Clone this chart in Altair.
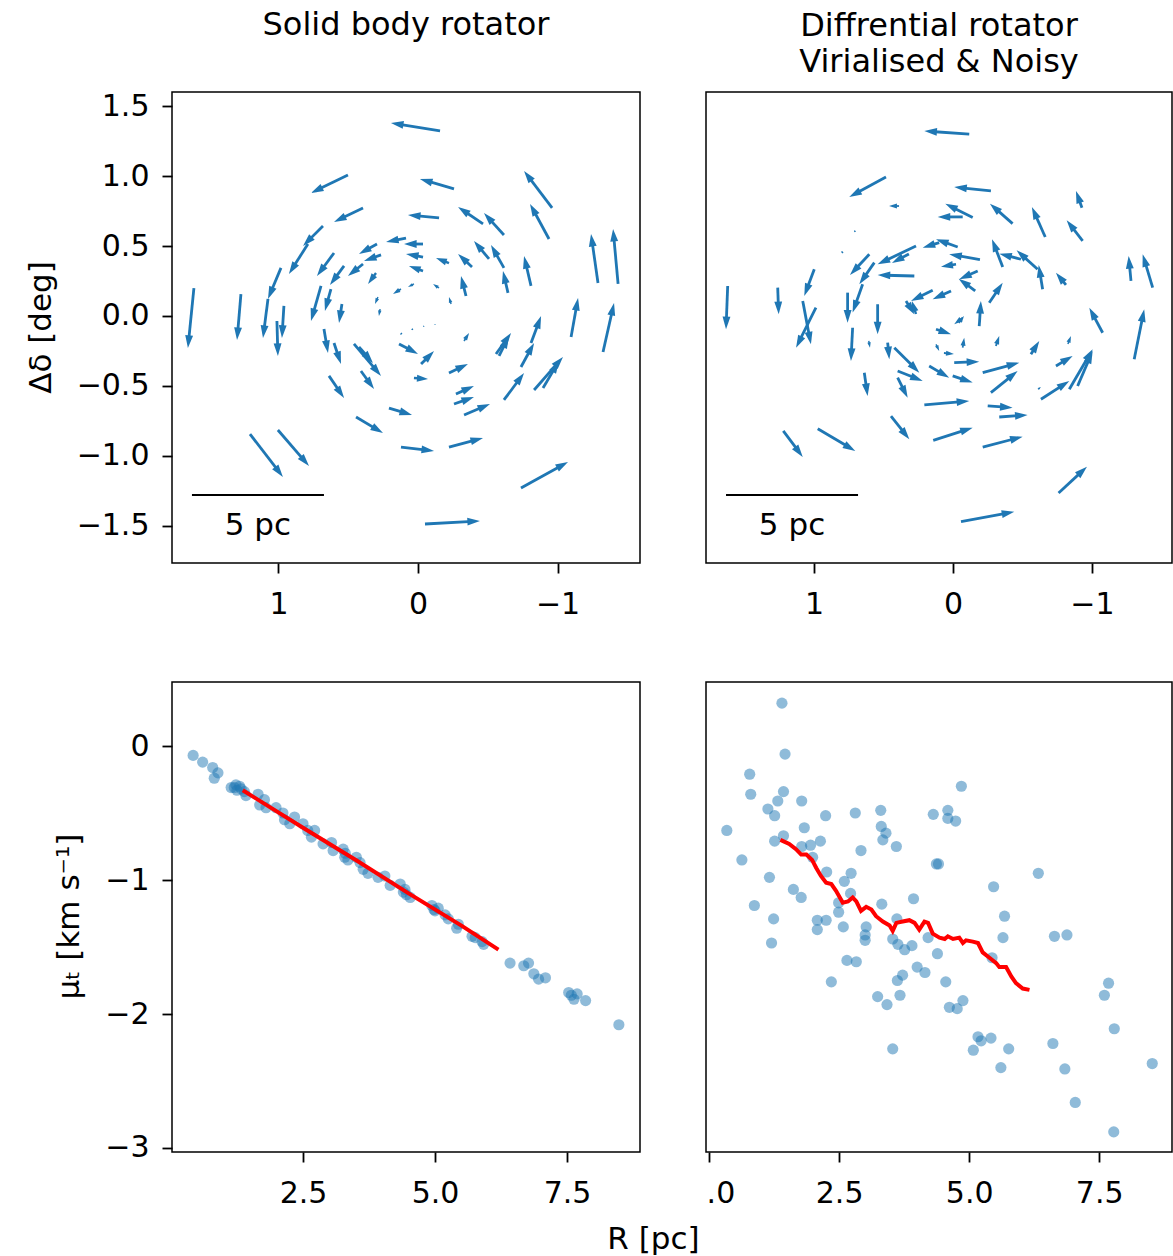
import altair as alt
import pandas as pd

FONT = "DejaVu Sans"
BLUE = "#1f77b4"

sb_x = [-0.158, 0.502, -0.258, -0.961, 0.394, -0.151, -0.466, -0.616, -0.939, 0.681,
        0.789, 0.602, 0.530, 0.086, -0.036, -0.036, 0.294, 0.265, 0.301, 0.394,
        -0.036, -0.222, -0.387, -0.509, -0.616, -0.810, -1.290, -1.434, -0.645, -0.344,
        0.982, 1.606, 1.269, 1.075, 0.961, 1.011, 0.695, 0.624, 0.674, 0.602,
        0.545, 0.459, 0.423, 0.409, 0.638, 0.208, 0.444, 0.122, -0.222, -0.738,
        -0.050, 1.204, 1.004, -0.258, -0.272, -0.330, -0.616, -0.832, -0.896, -0.738,
        -0.810, -1.097, -1.326, -0.559, -0.581, -0.222, 0.136, -0.022, 0.029, 0.115,
        0.036, -0.043, -0.122, 0.122, 0.029, 0.287, 0.272, -0.330, -0.237, -0.151]
sb_y = [1.324, 1.009, 0.909, 0.773, 0.773, 0.702, 0.659, 0.580, 0.551, 0.644,
        0.515, 0.451, 0.358, 0.558, 0.515, 0.422, 0.515, 0.437, 0.308, 0.372,
        0.322, 0.379, 0.351, 0.408, 0.344, 0.215, 0.236, 0.229, 0.165, 0.143,
        0.344, 0.200, 0.157, 0.122, 0.072, -0.036, 0.215, 0.193, -0.093, -0.193,
        0.086, -0.200, -0.222, -0.394, -0.429, -0.659, -0.723, -0.938, -0.938, -1.231,
        -1.489, -0.845, -0.816, -0.630, -0.558, -0.709, -0.601, -0.530, -0.515, -0.365,
        -0.193, -0.150, -0.258, -0.272, -0.286, -0.408, -0.200, -0.344, -0.444, -0.122,
        -0.093, -0.072, -0.064, 0.193, 0.229, 0.136, 0.050, -0.179, 0.086, 0.200]
sb_x2 = [0.194, 0.767, -0.014, -0.760, 0.602, 0.072, -0.287, -0.473, -0.803, 0.824,
         0.925, 0.724, 0.631, 0.229, 0.100, 0.086, 0.423, 0.387, 0.358, 0.502,
         0.065, -0.129, -0.287, -0.401, -0.523, -0.760, -1.240, -1.398, -0.609, -0.308,
         1.075, 1.649, 1.297, 1.111, 0.975, 1.004, 0.767, 0.667, 0.645, 0.552,
         0.566, 0.265, 0.323, 0.315, 0.530, 0.043, 0.251, -0.115, -0.466, -1.075,
         -0.444, 0.968, 0.781, -0.401, -0.401, -0.516, -0.760, -1.039, -1.011, -0.832,
         -0.882, -1.147, -1.405, -0.667, -0.652, -0.358, 0.000, -0.115, -0.072, 0.129,
         0.050, -0.036, -0.122, 0.179, 0.072, 0.308, 0.280, -0.366, -0.222, -0.108]
sb_y2 = [1.382, 0.880, 0.981, 1.038, 0.673, 0.723, 0.780, 0.737, 0.802, 0.501,
         0.301, 0.286, 0.222, 0.530, 0.515, 0.444, 0.444, 0.394, 0.229, 0.286,
         0.358, 0.415, 0.444, 0.537, 0.508, 0.429, 0.587, 0.623, 0.322, 0.286,
         0.122, -0.229, -0.172, -0.157, -0.157, -0.286, -0.036, 0.036, -0.265, -0.344,
         -0.050, -0.429, -0.336, -0.523, -0.587, -0.709, -0.838, -0.966, -0.873, -1.045,
         -1.467, -1.152, -1.074, -0.580, -0.501, -0.630, -0.408, -0.293, -0.322, -0.193,
         0.000, 0.129, 0.093, -0.122, -0.143, -0.344, -0.272, -0.251, -0.451, -0.136,
         -0.100, -0.079, -0.057, 0.158, 0.208, 0.086, 0.000, -0.122, 0.136, 0.229]

dr_x = [-0.117, 0.482, -0.273, 0.388, -0.142, -0.070, -0.429, -0.664, -0.928, -0.933,
        0.703, 0.791, -0.034, 0.099, 0.602, 0.266, 0.317, 0.278, -0.194, -0.022,
        -0.358, -0.489, -0.609, -0.645, -0.813, -1.281, -1.437, -0.178, -0.160, -0.261,
        -0.189, 0.014, 0.146, 0.266, 0.998, 1.261, 1.621, 1.081, 0.986, 0.758,
        0.542, 0.566, 0.650, -0.070, -1.077, -1.304, 0.722, 0.606, 0.470, 0.422,
        0.398, 0.398, 0.638, 0.171, 0.122, 0.002, -0.009, 0.065, -0.070, -0.043,
        0.122, -0.214, -0.273, -0.309, -0.561, -0.741, -0.827, -0.837, -0.897, -0.633,
        -0.612, 0.206, -0.250, -0.333, 0.446, 0.142, -0.214, 1.221, 0.973, -0.760,
        -0.058, 0.338]
dr_y = [1.301, 0.995, 0.895, 0.787, 0.704, 0.709, 0.661, 0.565, 0.775, 0.537,
        0.601, 0.451, 0.494, 0.525, 0.442, 0.501, 0.444, 0.286, 0.403, 0.370,
        0.351, 0.406, 0.334, 0.191, 0.222, 0.251, 0.203, 0.322, 0.179, 0.095,
        -0.072, 0.179, 0.184, 0.014, 0.334, 0.203, 0.215, 0.107, 0.059, 0.167,
        0.084, 0.382, 0.227, -0.012, -0.120, -0.310, -0.084, -0.179, -0.191, -0.227,
        -0.394, -0.442, -0.406, -0.358, -0.203, -0.429, -0.334, -0.265, -0.227, -0.050,
        -0.095, -0.406, -0.549, -0.215, -0.274, -0.358, -0.200, -0.525, -0.501, -0.596,
        -0.525, -0.637, -0.644, -0.723, -0.716, -0.890, -0.938, -0.823, -0.807, -1.267,
        -1.472, 0.107]
dr_x2 = [0.206, 0.746, -0.009, 0.460, 0.055, 0.110, -0.266, -0.568, -0.885, -0.818,
         0.712, 0.806, 0.122, 0.218, 0.741, 0.542, 0.439, 0.542, 0.027, 0.086,
         -0.281, -0.333, -0.458, -0.617, -0.741, -1.264, -1.365, -0.045, -0.041, -0.358,
         -0.201, 0.146, 0.302, 0.295, 1.070, 1.254, 1.633, 1.022, 1.129, 0.758,
         0.542, 0.674, 0.722, -0.009, -0.981, -1.376, 0.734, 0.597, 0.458, 0.242,
         0.218, 0.326, 0.614, 0.027, 0.099, -0.142, -0.189, -0.007, -0.081, -0.079,
         0.014, -0.477, -0.465, -0.333, -0.621, -0.861, -0.849, -1.005, -1.005, -0.837,
         -0.633, -0.117, -0.429, -0.537, 0.314, -0.142, -0.501, 1.081, 0.703, -0.964,
         -0.441, 0.278]
dr_y2 = [1.324, 0.852, 0.923, 0.787, 0.804, 0.709, 0.804, 0.780, 0.895, 0.685,
         0.616, 0.465, 0.549, 0.489, 0.293, 0.370, 0.379, 0.293, 0.442, 0.353,
         0.549, 0.446, 0.470, 0.365, 0.310, 0.429, 0.442, 0.263, 0.267, 0.238,
         0.107, 0.120, 0.107, 0.107, 0.143, 0.012, -0.095, -0.203, -0.227, -0.048,
         -0.131, 0.227, 0.024, -0.059, 0.059, 0.048, -0.322, -0.227, -0.310, -0.406,
         -0.465, -0.585, -0.573, -0.442, -0.251, -0.477, -0.327, -0.272, -0.155, 0.000,
         -0.131, -0.334, -0.394, -0.143, -0.179, -0.286, -0.143, -0.238, -0.251, -0.465,
         -0.508, -0.608, -0.656, -0.709, -0.883, -0.800, -0.864, -1.009, -0.966, -1.079,
         -1.401, 0.012]

sb_R = [0.42, 0.60, 0.79, 0.89, 0.82, 1.14, 1.23, 1.30, 1.39, 1.42, 1.65, 1.68, 1.77, 1.80, 1.99,
        2.12, 2.15, 2.25, 2.34, 2.50, 2.59, 2.66, 2.72, 2.88, 3.04, 3.07, 3.26, 3.29, 3.35, 3.51,
        3.58, 3.64, 3.73, 3.92, 4.05, 4.15, 4.34, 4.43, 4.46, 4.53, 4.94, 5.00, 5.06, 5.19, 5.25,
        5.44, 5.41, 5.70, 5.76, 5.89, 5.92, 6.42, 6.68, 6.77, 6.87, 6.96, 7.09, 7.53, 7.63, 7.69,
        7.85, 8.48, 1.20, 1.25, 1.33, 3.30, 4.40, 4.98, 7.58]
sb_mu = [-0.07, -0.12, -0.16, -0.20, -0.24, -0.31, -0.29, -0.30, -0.34, -0.37, -0.36, -0.44, -0.40, -0.46, -0.46,
         -0.50, -0.55, -0.58, -0.53, -0.58, -0.63, -0.68, -0.63, -0.73, -0.72, -0.78, -0.77, -0.83, -0.85, -0.83,
         -0.87, -0.92, -0.95, -0.98, -0.97, -1.04, -1.03, -1.07, -1.11, -1.13, -1.19, -1.23, -1.21, -1.26, -1.29,
         -1.33, -1.36, -1.42, -1.43, -1.46, -1.48, -1.62, -1.64, -1.62, -1.70, -1.74, -1.73, -1.84, -1.89, -1.85,
         -1.90, -2.08, -0.31, -0.33, -0.32, -0.80, -1.09, -1.22, -1.86]
sb_line_R = [1.36, 2.50, 3.50, 4.50, 5.50, 6.20]
sb_line_mu = [-0.33, -0.61, -0.85, -1.10, -1.34, -1.52]

dr_R = [1.40, 1.46, 0.78, 0.80, 1.43, 1.32, 1.13, 1.26, 1.78, 0.34,
        2.24, 2.81, 3.30, 4.85, 4.59, 4.31, 4.59, 4.74, 3.31, 3.40,
        3.34, 3.60, 1.83, 1.43, 1.26, 1.78, 1.95, 2.14, 1.99, 0.63,
        2.92, 4.41, 4.37, 6.33, 2.26, 2.73, 2.60, 1.16, 1.62, 1.77,
        2.72, 5.47, 0.87, 2.49, 2.49, 3.32, 3.93, 2.08, 2.25, 2.08,
        2.58, 3.02, 3.00, 3.00, 3.61, 1.24, 1.20, 5.68, 5.65, 4.21,
        3.53, 3.63, 3.76, 3.90, 4.39, 6.64, 6.88, 5.44, 2.65, 2.83,
        2.35, 4.00, 4.15, 3.62, 3.72, 4.55, 7.68, 7.60, 3.24, 3.42,
        3.67, 4.62, 4.77, 4.88, 7.79, 5.17, 5.42, 5.23, 5.08, 5.76,
        3.53, 6.61, 5.61, 6.84, 8.52, 7.04, 7.78]
dr_mu = [0.32, -0.06, -0.21, -0.36, -0.34, -0.41, -0.47, -0.52, -0.41, -0.63,
         -0.52, -0.50, -0.48, -0.30, -0.48, -0.51, -0.54, -0.56, -0.60, -0.65,
         -0.70, -0.75, -0.61, -0.67, -0.71, -0.75, -0.74, -0.71, -0.83, -0.85,
         -0.78, -0.88, -0.88, -0.95, -0.94, -0.95, -1.01, -0.98, -1.07, -1.13,
         -1.10, -1.05, -1.19, -1.17, -1.24, -1.18, -1.14, -1.30, -1.30, -1.37,
         -1.35, -1.35, -1.41, -1.45, -1.29, -1.29, -1.47, -1.27, -1.43, -1.43,
         -1.44, -1.48, -1.52, -1.49, -1.55, -1.42, -1.41, -1.58, -1.60, -1.61,
         -1.76, -1.65, -1.69, -1.75, -1.71, -1.76, -1.77, -1.86, -1.87, -1.93,
         -1.86, -1.95, -1.96, -1.90, -2.11, -2.17, -2.18, -2.20, -2.27, -2.26,
         -2.26, -2.22, -2.40, -2.41, -2.37, -2.66, -2.88]
dr_line_R = [1.37, 1.54, 1.67, 1.77, 1.87, 1.98, 2.06, 2.15, 2.25, 2.35, 2.44, 2.57, 2.67, 2.76, 2.83, 2.92,
             3.02, 3.12, 3.21, 3.34, 3.47, 3.53, 3.60, 3.72, 3.85, 3.95, 4.04, 4.14, 4.21, 4.30, 4.43, 4.53,
             4.59, 4.69, 4.81, 4.88, 4.94, 5.07, 5.17, 5.26, 5.39, 5.52, 5.58, 5.71, 5.81, 5.90, 6.03, 6.16]
dr_line_mu = [-0.70, -0.73, -0.77, -0.81, -0.81, -0.85, -0.91, -0.97, -1.02, -1.03, -1.08, -1.17, -1.16, -1.13, -1.16, -1.23,
              -1.20, -1.22, -1.27, -1.31, -1.34, -1.38, -1.32, -1.31, -1.30, -1.32, -1.37, -1.31, -1.32, -1.40, -1.43, -1.44,
              -1.42, -1.44, -1.43, -1.47, -1.45, -1.46, -1.47, -1.54, -1.58, -1.62, -1.65, -1.65, -1.72, -1.77, -1.81, -1.82]

bar_left = {"x": [1.620], "x2": [0.674], "y": [-1.281], "tx": [1.147], "ty": [-1.503], "label": ["5 pc"]}
bar_right = {"x": [1.633], "x2": [0.683], "y": [-1.281], "tx": [1.158], "ty": [-1.503], "label": ["5 pc"]}

PX = 139.5
HEAD = 12.0
ARROW_PATH = "M0,0L-0.75,2.4L0.75,2.4Z"
NB = "\u00a0"
TICKFS = 30
TITLEFS = 31


def axis(values, fmt, pad, **kw):
    base = dict(values=values, format=fmt, labelFontSize=TICKFS, labelFont=FONT, labelColor="black",
                tickColor="black", tickSize=10, tickWidth=1.8, domain=False, grid=False,
                labelPadding=pad, title=None, titleFont=FONT, titleFontSize=TITLEFS,
                titleFontWeight="normal", titleColor="black")
    base.update(kw)
    return alt.Axis(**base)


def top_panel(xs, ys, xa, ya, xdom, title_lines, bar, yaxis):
    df = pd.DataFrame({"x": xs, "y": ys, "x2": xa, "y2": ya})
    xscale = alt.Scale(domain=xdom, reverse=True, nice=False, zero=False)
    yscale = alt.Scale(domain=[-1.768, 1.603], nice=False, zero=False)
    ysec = {} if yaxis is not None else {"axis": None}
    base = (alt.Chart(df)
            .transform_calculate(dx="datum.x2 - datum.x", dy="datum.y2 - datum.y")
            .transform_calculate(L="sqrt(datum.dx*datum.dx + datum.dy*datum.dy)")
            .transform_calculate(f=f"min(1, datum.L*{PX}/16)",
                                 ang="(atan2(-datum.dx, datum.dy)*180/PI + 360) % 360")
            .transform_calculate(xe=f"datum.x2 - datum.dx/datum.L*{HEAD/PX}*datum.f*0.6",
                                 ye=f"datum.y2 - datum.dy/datum.L*{HEAD/PX}*datum.f*0.6",
                                 sz="110*datum.f*datum.f",
                                 sw="2.8*max(datum.f, 0.5)"))
    shafts = base.mark_rule(color=BLUE, strokeCap="butt").encode(
        x=alt.X("x:Q", scale=xscale, axis=axis([1, 0, -1], "d", 16)),
        y=alt.Y("y:Q", scale=yscale, axis=yaxis),
        x2="xe:Q", y2="ye:Q",
        strokeWidth=alt.StrokeWidth("sw:Q", scale=None, legend=None))
    heads = base.mark_point(shape=ARROW_PATH, filled=True, opacity=1, color=BLUE, strokeWidth=0).encode(
        x=alt.X("x2:Q", scale=xscale),
        y=alt.Y("y2:Q", scale=yscale, **ysec),
        angle=alt.Angle("ang:Q", scale=None, legend=None),
        size=alt.Size("sz:Q", scale=None, legend=None))
    bdf = pd.DataFrame(bar)
    barline = alt.Chart(bdf).mark_rule(color="black", strokeWidth=2).encode(
        x=alt.X("x:Q", scale=xscale), x2="x2:Q",
        y=alt.Y("y:Q", scale=yscale, **ysec))
    bartext = alt.Chart(bdf).mark_text(font=FONT, fontSize=31, color="black", align="center",
                                       baseline="middle").encode(
        x=alt.X("tx:Q", scale=xscale),
        y=alt.Y("ty:Q", scale=yscale, **ysec), text="label:N")
    return alt.layer(shafts, heads, barline, bartext).properties(
        title=alt.TitleParams(title_lines, font=FONT, fontSize=32, fontWeight="normal", color="black",
                              anchor="middle", baseline="bottom", offset=-19, lineHeight=36))


tl = top_panel(sb_x, sb_y, sb_x2, sb_y2, [-1.591, 1.763], ["Solid body rotator", NB], bar_left,
               axis([-1.5, -1.0, -0.5, 0.0, 0.5, 1.0, 1.5], ".1f", 13, title="Δδ [deg]",
                    titleX=-131, titleY=235, titleAngle=270, titleAlign="center",
                    titleBaseline="middle")).properties(width=468, height=471)
tr = top_panel(dr_x, dr_y, dr_x2, dr_y2, [-1.576, 1.777],
               ["Diffrential rotator", "Virialised & Noisy"], bar_right, None).properties(width=466, height=471)

yscale_b = alt.Scale(domain=[-3.03, 0.478], nice=False, zero=False)

sb_df = pd.DataFrame({"R": sb_R, "mu": sb_mu})
sb_line = pd.DataFrame({"R": sb_line_R, "mu": sb_line_mu})
dr_df = pd.DataFrame({"R": dr_R, "mu": dr_mu})
dr_line = pd.DataFrame({"R": dr_line_R, "mu": dr_line_mu})

xs_bl = alt.Scale(domain=[0.02, 8.88], nice=False, zero=False)
xs_br = alt.Scale(domain=[-0.06, 8.9], nice=False, zero=False)

bl_pts = alt.Chart(sb_df).mark_circle(color=BLUE, opacity=0.5, size=125).encode(
    x=alt.X("R:Q", scale=xs_bl, axis=axis([2.5, 5.0, 7.5], ".1f", 16)),
    y=alt.Y("mu:Q", scale=yscale_b, axis=axis([0, -1, -2, -3], "d", 13, title="μₜ [km s⁻¹]",
                                              titleX=-103, titleY=234, titleAngle=270,
                                              titleAlign="center", titleBaseline="middle")))
bl_line = alt.Chart(sb_line).mark_line(color="red", strokeWidth=4).encode(
    x=alt.X("R:Q", scale=xs_bl), y=alt.Y("mu:Q", scale=yscale_b))
bl = alt.layer(bl_pts, bl_line).properties(width=468, height=470)

br_pts = alt.Chart(dr_df).mark_circle(color=BLUE, opacity=0.5, size=125).encode(
    x=alt.X("R:Q", scale=xs_br,
            axis=axis([0, 2.5, 5.0, 7.5], ".1f", 16, labelFlush=5, labelFlushOffset=3,
                      labelExpr="datum.value == 0 ? '.0' : datum.label")),
    y=alt.Y("mu:Q", scale=yscale_b, axis=None))
br_line = alt.Chart(dr_line).mark_line(color="red", strokeWidth=4).encode(
    x=alt.X("R:Q", scale=xs_br), y=alt.Y("mu:Q", scale=yscale_b, axis=None))
br = alt.layer(br_pts, br_line).properties(width=466, height=470)

row1 = alt.hconcat(tl, tr, spacing=64)
row2 = alt.hconcat(bl, br, spacing=64)

chart = alt.vconcat(
    row1, row2, spacing=61,
    title=alt.TitleParams("R [pc]", orient="bottom", anchor="middle", baseline="top", dx=55, offset=16,
                          font=FONT, fontSize=TITLEFS, fontWeight="normal", color="black"),
).properties(
    padding={"left": 24, "top": 8, "right": 0, "bottom": 0}, background="white"
).configure(font=FONT).configure_view(stroke="black", strokeWidth=1.5)

chart.save("out.html", embed_options={"renderer": "svg", "actions": False})
